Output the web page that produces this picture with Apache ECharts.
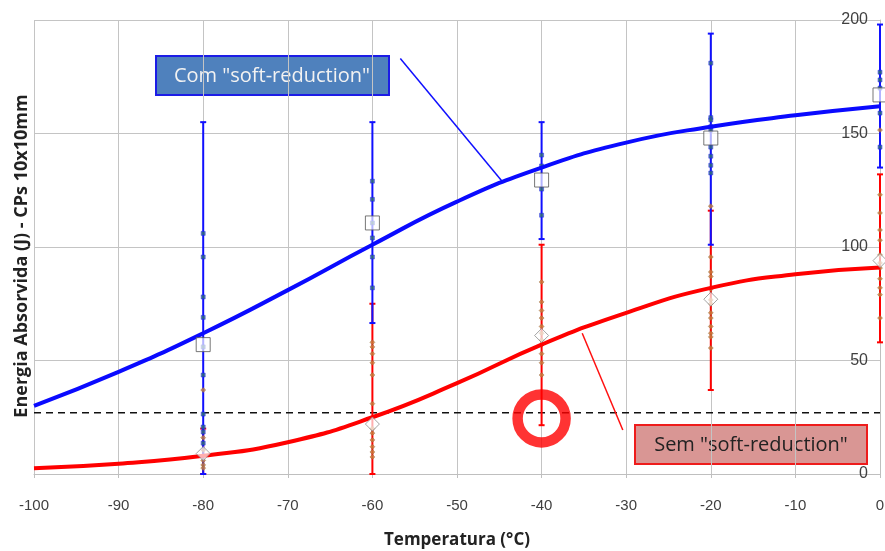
<!DOCTYPE html>
<html>
<head>
<meta charset="utf-8">
<script src="https://cdn.jsdelivr.net/npm/echarts@6/dist/echarts.min.js"></script>
<style>
  html, body { margin: 0; padding: 0; background: #fff; }
  #chart { width: 885px; height: 551px; }
</style>
</head>
<body>
<div id="chart"></div>
<script>
const temps = [-100, -90, -80, -70, -60, -50, -40, -30, -20, -10, 0];
const comCurve = [30, 45, 62, 81, 101, 120, 135, 146, 153, 158, 162];
const semCurve = [2.5, 4.5, 8, 14, 25, 40, 57, 71, 82, 88, 91];

// barras de dispersão por temperatura de ensaio
const barTemps = [-80, -60, -40, -20, 0];
const comLow = [0, 66.5, 103.5, 101, 135];
const comHigh = [155, 155, 155, 194, 198];
const comMean = [57, 110.6, 129.5, 148, 167];
const semLow = [0, 0, 21.5, 37, 58];
const semHigh = [20, 75, 101, 116, 132];
const semMean = [9, 22, 61, 77, 94];

// valores individuais (um array por temperatura de barTemps)
const comPoints = [
  [106, 95.6, 78, 69, 56, 43.6, 26.4, 20.7, 18.5, 13.6],
  [129, 121, 110.6, 104, 95.6, 82],
  [140.5, 135.7, 125.5, 114],
  [181, 157, 156, 153, 151.5, 144, 140, 136, 132.6],
  [177, 173.6, 170, 159, 144]
];
const semPoints = [
  [37, 16, 10.6, 6, 4, 2.6],
  [58, 56, 53, 49, 43.6, 31, 20, 18, 15, 12, 9.7, 7.5],
  [84.6, 75.8, 72, 68.7, 65, 62, 59, 57, 53, 49, 43.6],
  [118, 95.6, 89, 87, 81.5, 76.7, 75, 71, 68.7, 65, 62, 60.4, 55.5],
  [151.5, 123, 115, 107.5, 103, 96.5, 93, 90.7, 86, 82, 79, 68.7]
];

const limiar = 27;              // linha tracejada
const destaque = [-40, 24.5];   // círculo vermelho
const comSeta = [[-56.7, 183], [-44.6, 128.6]];
const semSeta = [[-30.4, 19.4], [-35.2, 62]];

const pair = (xs, ys) => xs.map((x, i) => [x, ys[i]]);
const flatPts = (pts) => {
  let out = [];
  pts.forEach((list, i) => list.forEach(v => out.push([barTemps[i], v])));
  return out;
};

// barra de erro com "capas"
function errorBar(color) {
  return function (params, api) {
    const x = api.value(0);
    const lo = api.coord([x, api.value(1)]);
    const hi = api.coord([x, api.value(2)]);
    const w = 3;
    const st = { stroke: color, lineWidth: 2 };
    return {
      type: 'group',
      children: [
        { type: 'line', shape: { x1: lo[0], y1: lo[1], x2: hi[0], y2: hi[1] }, style: st },
        { type: 'line', shape: { x1: lo[0] - w, y1: lo[1], x2: lo[0] + w, y2: lo[1] }, style: st },
        { type: 'line', shape: { x1: hi[0] - w, y1: hi[1], x2: hi[0] + w, y2: hi[1] }, style: st }
      ]
    };
  };
}

const chart = echarts.init(document.getElementById('chart'));
const labelFont = "'Liberation Sans Narrow', 'Liberation Sans', sans-serif";

chart.setOption({
  animation: false,
  grid: { left: 34, right: 5, top: 20, bottom: 77, containLabel: false, outerBoundsMode: 'none' },
  xAxis: {
    type: 'value', min: -100, max: 0, interval: 10,
    name: 'Temperatura (°C)', nameLocation: 'middle', nameGap: 58,
    nameTextStyle: { fontSize: 17, fontWeight: 'bold', color: '#222', fontFamily: 'Open Sans' },
    axisLine: { show: true, lineStyle: { color: '#bfbfbf' } },
    axisTick: { show: true, length: 4, lineStyle: { color: '#bfbfbf' } },
    axisLabel: { color: '#404040', fontSize: 15, margin: 24, fontFamily: labelFont },
    splitLine: { show: true, lineStyle: { color: '#c4c4c4', width: 1 } }
  },
  yAxis: {
    type: 'value', min: 0, max: 200, interval: 50, position: 'right',
    axisLine: { show: true, lineStyle: { color: '#bfbfbf' } },
    axisTick: { show: false },
    axisLabel: { inside: true, margin: 12, color: '#404040', fontSize: 16, fontFamily: labelFont },
    splitLine: { show: true, lineStyle: { color: '#c4c4c4', width: 1 } }
  },
  graphic: [
    {
      type: 'text', x: 22, y: 256, rotation: Math.PI / 2,
      style: { text: 'Energia Absorvida (J) - CPs 10x10mm', fill: '#222', font: "bold 18px 'Open Sans'",
        align: 'center', verticalAlign: 'middle' }
    },
    {
      type: 'group', left: 155, top: 55,
      children: [
        { type: 'rect', shape: { x: 0, y: 0, width: 233, height: 39 },
          style: { fill: '#4f81bd', stroke: '#1c1ce6', lineWidth: 2 } },
        { type: 'text', x: 116, y: 20,
          style: { text: 'Com "soft-reduction"', fill: '#f2f2f2', font: "20px 'Open Sans'", align: 'center', verticalAlign: 'middle' } }
      ]
    },
    {
      type: 'group', left: 634, top: 424,
      children: [
        { type: 'rect', shape: { x: 0, y: 0, width: 232, height: 39 },
          style: { fill: '#d99694', stroke: '#ee1c1c', lineWidth: 2 } },
        { type: 'text', x: 116, y: 20,
          style: { text: 'Sem "soft-reduction"', fill: '#222', font: "20px 'Open Sans'", align: 'center', verticalAlign: 'middle' } }
      ]
    }
  ],
  series: [
    {
      type: 'line', data: temps.map(t => [t, limiar]), symbol: 'none', silent: true,
      lineStyle: { color: '#111', width: 1.5, type: [7, 5] }, z: 1
    },
    {
      type: 'custom', renderItem: errorBar('#ff0000'), clip: false,
      data: barTemps.map((t, i) => [t, semLow[i], semHigh[i]]), z: 2
    },
    {
      type: 'custom', renderItem: errorBar('#1010ff'), clip: false,
      data: barTemps.map((t, i) => [t, comLow[i], comHigh[i]]), z: 3
    },
    {
      type: 'scatter', data: flatPts(semPoints), symbol: 'diamond', symbolSize: 5,
      itemStyle: { color: '#c8803c', borderColor: '#8a5a2a', borderWidth: 0.5 }, z: 4
    },
    {
      type: 'scatter', data: flatPts(comPoints), symbol: 'rect', symbolSize: 4,
      itemStyle: { color: '#2f6f6f', borderColor: '#1a1aff', borderWidth: 0.6 }, z: 4
    },
    {
      name: 'Sem', type: 'line', data: pair(temps, semCurve), smooth: true, symbol: 'none',
      lineStyle: { color: '#ff0000', width: 4 }, z: 5,
      markLine: {
        silent: true, symbol: 'none', label: { show: false },
        lineStyle: { color: '#ff1010', width: 1.5, type: 'solid' },
        data: [[{ coord: semSeta[0] }, { coord: semSeta[1] }]]
      }
    },
    {
      name: 'Com', type: 'line', data: pair(temps, comCurve), smooth: true, symbol: 'none',
      lineStyle: { color: '#0a0aff', width: 4 }, z: 5,
      markLine: {
        silent: true, symbol: 'none', label: { show: false },
        lineStyle: { color: '#1010ff', width: 1.5, type: 'solid' },
        data: [[{ coord: comSeta[0] }, { coord: comSeta[1] }]]
      }
    },
    {
      type: 'scatter', data: pair(barTemps, semMean), symbol: 'diamond', symbolSize: 14,
      itemStyle: { color: 'rgba(255,255,255,0.85)', borderColor: '#8c8c8c', borderWidth: 1 }, z: 6
    },
    {
      type: 'scatter', data: pair(barTemps, comMean), symbol: 'rect', symbolSize: 14,
      itemStyle: { color: 'rgba(255,255,255,0.85)', borderColor: '#555', borderWidth: 1 }, z: 6
    },
    {
      type: 'scatter', data: [destaque], symbol: 'circle', symbolSize: 48,
      itemStyle: { color: 'rgba(0,0,0,0)', borderColor: '#ff0000', borderWidth: 10.5 }, z: 7
    }
  ]
});
</script>
</body>
</html>
